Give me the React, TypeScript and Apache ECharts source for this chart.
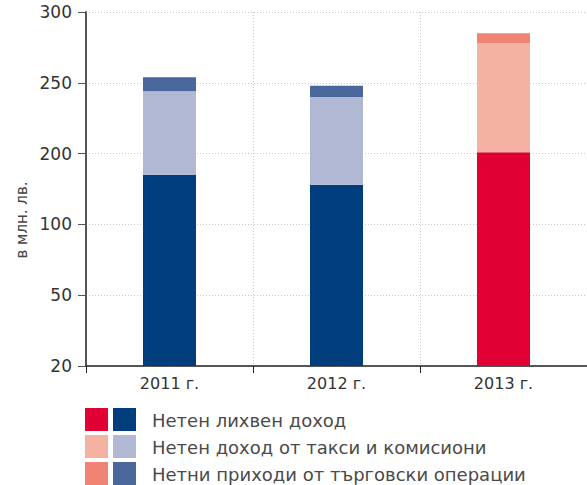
import React, { useEffect, useRef } from "react";
import * as echarts from "echarts";

const years = ["2011 г.", "2012 г.", "2013 г."];
const tickLabels = [20, 50, 100, 200, 250, 300];
const seriesNames = [
  "Нетен лихвен доход",
  "Нетен доход от такси и комисиони",
  "Нетни приходи от търговски операции",
];
const axisTitle = "в млн. лв.";
// values in млн. лв., read off the chart's (non-linear) scale
const interestIncome = [170, 156, 201];
const feeIncome = [74, 84, 77];
const tradingIncome = [10, 8, 7];
const bluePalette = ["#003D7C", "#B0B8D4", "#4A679C"];
const redPalette = ["#E10033", "#F4B2A2", "#EF8374"];

// piecewise-linear mapping from value to evenly spaced tick index
function toAxis(v: number): number {
  if (v <= tickLabels[0]) return 0;
  for (let i = 0; i < tickLabels.length - 1; i++) {
    const a = tickLabels[i];
    const b = tickLabels[i + 1];
    if (v <= b) return i + (v - a) / (b - a);
  }
  return tickLabels.length - 1;
}

const FONT = "'DejaVu Sans', sans-serif";

export default function App() {
  const ref = useRef<HTMLDivElement>(null);
  useEffect(() => {
    document.body.style.margin = "0";
    if (!ref.current) return;
    const chart = echarts.init(ref.current, undefined, { renderer: "svg" });
    const groups = [interestIncome, feeIncome, tradingIncome];
    const cum = years.map(() => 0);
    const series = groups.map((vals, si) => {
      const data = vals.map((v, i) => {
        const prev = toAxis(cum[i]);
        cum[i] += v;
        const cur = toAxis(cum[i]);
        const pal = i === 2 ? redPalette : bluePalette;
        return { value: cur - prev, itemStyle: { color: pal[si] } };
      });
      return {
        name: seriesNames[si],
        type: "bar",
        stack: "total",
        barWidth: 53,
        data,
      };
    });

    const legendRows = seriesNames
      .map((name, i) => {
        const y = 408 + i * 27;
        return [
          { type: "rect", shape: { x: 85, y, width: 23, height: 23 }, style: { fill: redPalette[i] } },
          { type: "rect", shape: { x: 113, y, width: 23, height: 23 }, style: { fill: bluePalette[i] } },
          {
            type: "text",
            x: 152,
            y: y + 12,
            style: {
              text: name,
              fill: "#4a4a4a",
              font: `18px ${FONT}`,
              verticalAlign: "middle",
            },
          },
        ];
      })
      .flat();

    chart.setOption({
      animation: false,
      grid: { left: 86, right: -4, top: 12, bottom: 119 },
      xAxis: {
        type: "category",
        data: years,
        axisLine: { lineStyle: { color: "#222", width: 1.5 } },
        axisTick: { show: true, length: 7, lineStyle: { color: "#222" } },
        axisLabel: { color: "#333", fontSize: 16, fontFamily: FONT, margin: 9 },
        splitLine: { show: true, lineStyle: { color: "#c8c8c8", type: [1, 2] } },
      },
      yAxis: {
        type: "value",
        min: 0,
        max: 5,
        interval: 1,
        axisLine: { show: true, lineStyle: { color: "#555", width: 2 } },
        axisTick: { show: true, length: 8, lineStyle: { color: "#555" } },
        axisLabel: {
          color: "#333",
          fontSize: 17,
          fontFamily: FONT,
          margin: 14,
          formatter: (v: number) => String(tickLabels[Math.round(v)]),
        },
        splitLine: { show: true, lineStyle: { color: "#c8c8c8", type: [1, 2] } },
      },
      series,
      graphic: [
        ...legendRows,
        {
          type: "text",
          x: 22,
          y: 220,
          rotation: Math.PI / 2,
          style: {
            text: axisTitle,
            fill: "#444",
            font: `15px ${FONT}`,
            align: "center",
            verticalAlign: "middle",
          },
        },
      ],
    });
    return () => chart.dispose();
  }, []);
  return <div ref={ref} style={{ width: 587, height: 485 }} />;
}
